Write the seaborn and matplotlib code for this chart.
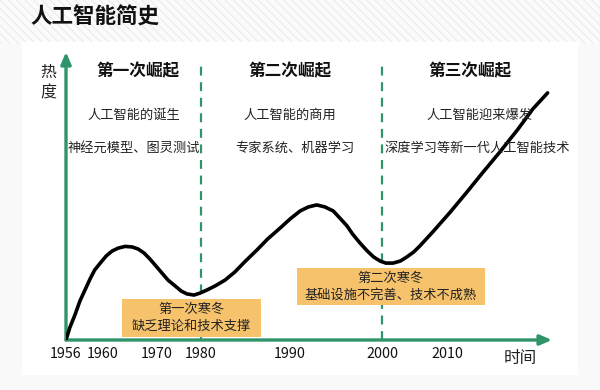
import numpy as np
import pandas as pd
import matplotlib
matplotlib.use("Agg")
import matplotlib.pyplot as plt
from matplotlib.patches import Rectangle
import seaborn as sns

# ---------------- data ----------------
title = "人工智能简史"
years = [1956.0, 1956.4, 1957.0, 1957.5, 1958.1, 1958.6, 1959.1, 1959.7, 1960.6, 1961.7,
         1962.8, 1964.1, 1965.4, 1966.5, 1967.6, 1968.7, 1969.8, 1971.1, 1972.5, 1974.1,
         1975.5, 1976.8, 1978.4, 1979.8, 1980.7, 1981.6, 1982.7, 1983.8, 1984.9, 1986.3,
         1987.5, 1988.9, 1990.0, 1991.1, 1992.0, 1992.9, 1993.8, 1994.7, 1995.4, 1996.2,
         1996.8, 1997.6, 1998.4, 1999.1, 1999.8, 2000.6, 2001.7, 2002.8, 2003.8, 2004.9,
         2005.8, 2007.8, 2010.5, 2013.1, 2015.6, 2018.2, 2020.9, 2023.3, 2025.6]
heat = [0.0, 4.2, 9.0, 13.5, 17.7, 21.2, 24.3, 26.7, 29.2, 30.9,
        31.9, 32.5, 32.3, 31.6, 30.2, 28.1, 25.7, 23.3, 20.8, 18.8,
        17.0, 16.0, 15.6, 16.3, 17.4, 18.8, 20.8, 23.6, 27.1, 31.3,
        35.1, 38.9, 42.0, 44.8, 46.2, 46.9, 46.2, 44.8, 42.4, 39.6,
        36.8, 33.7, 30.9, 28.8, 27.4, 26.7, 26.7, 27.4, 28.8, 30.6,
        32.6, 37.5, 44.4, 51.4, 58.3, 65.3, 72.9, 80.2, 85.8]
tick_years = [1956, 1960, 1970, 1980, 1990, 2000, 2010]
divider_years = [1980, 2000]
phase_titles = ["第一次崛起", "第二次崛起", "第三次崛起"]
phase_lines1 = ["人工智能的诞生", "人工智能的商用", "人工智能迎来爆发"]
phase_lines2 = ["神经元模型、图灵测试", "专家系统、机器学习", "深度学习等新一代人工智能技术"]
winter_titles = ["第一次寒冬", "第二次寒冬"]
winter_reasons = ["缺乏理论和技术支撑", "基础设施不完善、技术不成熟"]
y_label = "热\n度"
x_label = "时间"

df = pd.DataFrame({"year": years, "heat": heat})

# ---------------- style ----------------
sns.set_style("white")
plt.rcParams["font.family"] = ["Noto Sans CJK SC", "DejaVu Sans"]
plt.rcParams["hatch.linewidth"] = 0.8

GREEN = "#2f9468"
ORANGE = "#f6c36c"

W, H = 600, 390
fig = plt.figure(figsize=(6, 3.9), dpi=100)
fig.patch.set_facecolor("#f9f9f9")

# background texture (top band) + white panel
band = Rectangle((0, 1 - 44 / H), 1, 44 / H, transform=fig.transFigure,
                 facecolor="#fbfbfb", edgecolor="#ebebeb", hatch="\\\\\\\\",
                 lw=0, zorder=-10)
fig.patches.append(band)
panel = Rectangle((22 / W, 1 - 375 / H), (578 - 22) / W, (375 - 42) / H,
                  transform=fig.transFigure, facecolor="white", lw=0, zorder=-9)
fig.patches.append(panel)

# axes area in pixels: x 66..552, y 52..340
ax = fig.add_axes([66 / W, 1 - 340 / H, (552 - 66) / W, (340 - 52) / H])
ax.patch.set_alpha(0)

# non-linear time scale (schematic spacing of the original)
anchor_years = [1950, 1956, 1960, 1970, 1980, 1990, 2000, 2010, 2030]
anchor_px = [10.5, 66, 103, 157, 201, 290, 382, 447, 576]
fwd = lambda v: np.interp(v, anchor_years, anchor_px)
inv = lambda p: np.interp(p, anchor_px, anchor_years)
ax.set_xscale("function", functions=(fwd, inv))
ax.set_xlim(1956, inv(552))
ax.set_ylim(0, 100)

sns.lineplot(data=df, x="year", y="heat", ax=ax, color="black", lw=2.6,
             estimator=None, sort=False, zorder=3,
             solid_joinstyle="round", solid_capstyle="round")

for s in ax.spines.values():
    s.set_visible(False)
ax.set_xlabel("")
ax.set_ylabel("")
ax.set_yticks([])
ax.set_xticks(tick_years)
ax.set_xticklabels([str(t) for t in tick_years], fontsize=10.3, color="#111111")
ax.tick_params(axis="x", length=0, pad=5)
ax.xaxis.set_minor_locator(matplotlib.ticker.NullLocator())

# axis arrows
arrow = dict(arrowstyle="-|>,head_length=0.7,head_width=0.3", color=GREEN, lw=2.4,
             shrinkA=0, shrinkB=0)
ax.annotate("", xy=(1, 0), xytext=(0, 0), xycoords="axes fraction",
            arrowprops=arrow, zorder=2, annotation_clip=False)
ax.annotate("", xy=(0, 1), xytext=(0, 0), xycoords="axes fraction",
            arrowprops=arrow, zorder=2, annotation_clip=False)

# dashed dividers
for yr in divider_years:
    ax.axvline(yr, ymin=0, ymax=(340 - 62) / 288, color=GREEN, lw=1.6,
               ls=(0, (4, 3)), zorder=1)

# phase texts
def hx(px):
    return inv(px)

def hy(py):
    return (340 - py) / 2.88

title_x = [138, 290, 470]
line1_x = [134, 290, 479]
line2_x = [134, 295, 477]
for i in range(3):
    ax.text(hx(title_x[i]), hy(71), phase_titles[i], ha="center", va="center",
            fontsize=12, fontweight="bold", color="#111111", clip_on=False)
    ax.text(hx(line1_x[i]), hy(115), phase_lines1[i], ha="center", va="center",
            fontsize=9.5, color="#222222")
    ax.text(hx(line2_x[i]), hy(148), phase_lines2[i], ha="center", va="center",
            fontsize=9.5, color="#222222")

# winter boxes
box_cx = [191.5, 391]
box_cy = [318, 286.5]
box_w = [138, 188]
box_h = [38, 37]
for i in range(2):
    x0 = hx(box_cx[i] - box_w[i] / 2)
    x1 = hx(box_cx[i] + box_w[i] / 2)
    y0 = hy(box_cy[i] + box_h[i] / 2)
    y1 = hy(box_cy[i] - box_h[i] / 2)
    ax.add_patch(Rectangle((x0, y0), x1 - x0, y1 - y0, facecolor=ORANGE,
                           edgecolor="none", zorder=4))
    ax.text(hx(box_cx[i]), hy(box_cy[i] - 8.5), winter_titles[i], ha="center",
            va="center", fontsize=9.5, color="#222222", zorder=5)
    ax.text(hx(box_cx[i]), hy(box_cy[i] + 8.5), winter_reasons[i], ha="center",
            va="center", fontsize=9.5, color="#222222", zorder=5)

# axis labels and title
fig.text(48 / W, 1 - 83 / H, y_label, ha="center", va="center", fontsize=11.5,
         color="#222222", linespacing=1.25)
fig.text(520 / W, 1 - 358 / H, x_label, ha="center", va="center", fontsize=12,
         color="#222222")
fig.text(30 / W, 1 - 17 / H, title, ha="left", va="center", fontsize=15.5,
         fontweight="bold", color="#111111")

fig.savefig("out.png", dpi=100, facecolor=fig.get_facecolor())
